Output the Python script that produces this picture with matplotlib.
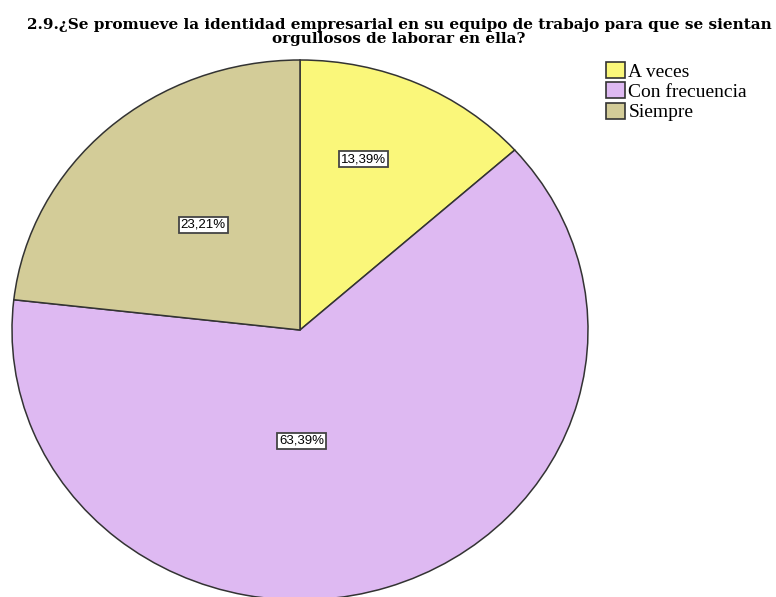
import matplotlib

matplotlib.use("Agg")
import matplotlib.pyplot as plt
import numpy as np

categories = ["A veces", "Con frecuencia", "Siempre"]
percentages = [13.39, 63.39, 23.21]
title = ("2.9.¿Se promueve la identidad empresarial en su equipo de trabajo para que se sientan\n"
         "orgullosos de laborar en ella?")

COLORS = ["#FAF77A", "#DEB9F2", "#D3CC98"]
EDGE = "#333333"
# label placement: (radius fraction, angle offset in degrees from slice middle)
LABEL_PLACE = [(0.67, -5.0), (0.41, 17.0), (0.515, 1.0)]

W, H = 776, 597
fig = plt.figure(figsize=(W / 100, H / 100), dpi=100)
fig.patch.set_facecolor("white")

# pie centred at (300, 330) px from the top, rx=288, ry=270
cx, cy, rx, ry = 300, 330, 288, 270
ax = fig.add_axes([(cx - rx) / W, (H - cy - ry) / H, 2 * rx / W, 2 * ry / H])
wedges, _ = ax.pie(
    percentages, colors=COLORS, startangle=90, counterclock=False,
    wedgeprops=dict(edgecolor=EDGE, linewidth=1.1), radius=1.0,
)
ax.set_aspect("auto")
ax.set_xlim(-1, 1)
ax.set_ylim(-1, 1)
ax.axis("off")

total = sum(percentages)
start = 0.0
for pct, (r, off) in zip(percentages, LABEL_PLACE):
    span = pct / total * 360.0
    mid = np.radians(start + span / 2 + off)
    start += span
    ax.text(
        r * np.sin(mid), r * np.cos(mid), f"{pct:.2f}%".replace(".", ","),
        ha="center", va="center", fontsize=9.5, family="Liberation Sans",
        bbox=dict(boxstyle="square,pad=0.15", facecolor="white",
                  edgecolor="#444444", linewidth=1.3),
    )

fig.text(399 / W, 1 - 18 / H, title, ha="center", va="top",
         fontsize=11, fontweight="bold", family="DejaVu Serif",
         linespacing=1.0)

handles = [plt.Rectangle((0, 0), 1, 1, facecolor=c, edgecolor=EDGE, linewidth=1.2)
           for c in COLORS]
fig.legend(
    handles, categories, loc="upper left", bbox_to_anchor=(602 / W, 1 - 58 / H),
    frameon=False, prop=dict(family="Liberation Serif", size=14),
    handlelength=1.0, handleheight=0.9, handletextpad=0.15, labelspacing=0.08,
    borderaxespad=0, borderpad=0.2,
)

fig.savefig("out.png", dpi=100, facecolor="white")
